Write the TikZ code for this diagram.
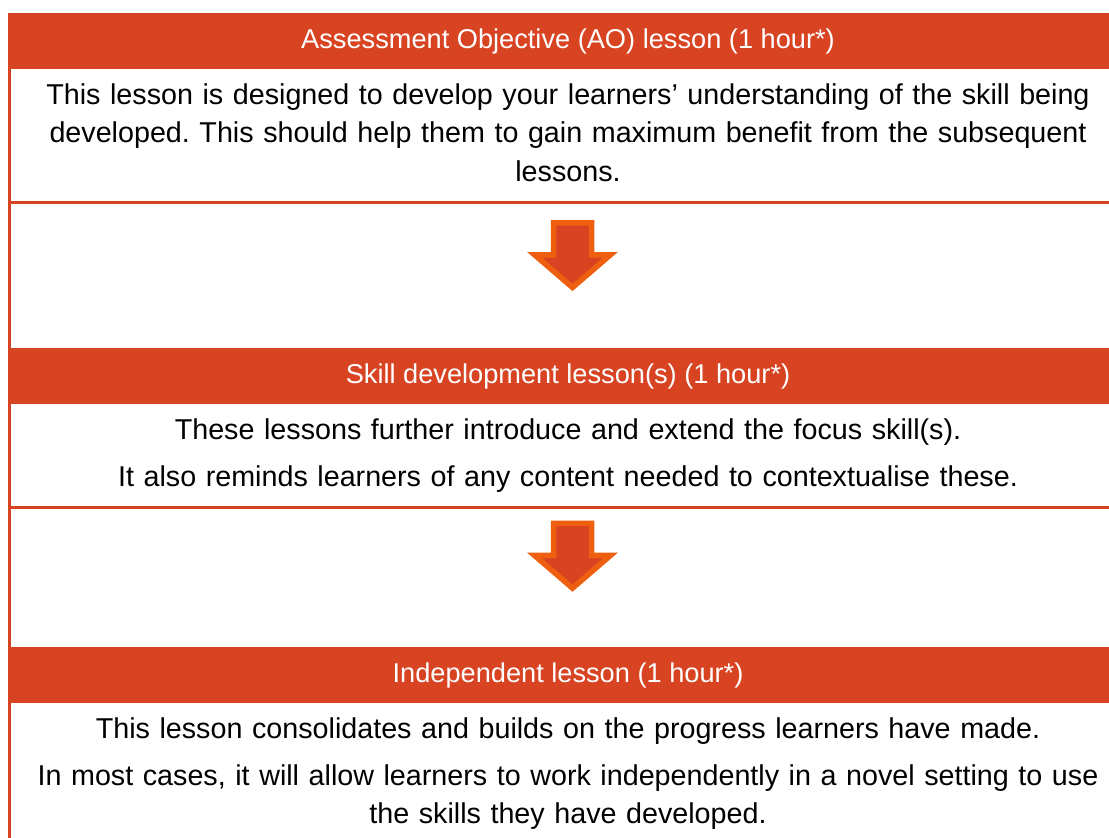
\documentclass[tikz,border=0pt]{standalone}
\usepackage{fontspec}
\setmainfont{Liberation Sans}
\usetikzlibrary{positioning}
\definecolor{lessonred}{HTML}{D84322}
\definecolor{lessonorange}{HTML}{EE5F0F}
\frenchspacing

\begin{document}
\begin{tikzpicture}[x=1pt,y=-1pt, head/.style={fill=lessonred,text=white,minimum width=1120pt,minimum height=55.7pt,inner sep=0pt,font=\fontsize{27.2}{32}\selectfont}, body/.style={anchor=base,align=center,text width=1090pt,inner sep=0pt,font=\fontsize{28.7}{38.4}\selectfont}, rule/.style={draw=lessonred,line width=2.6pt}, blockarrow/.style={fill=lessonred,draw=lessonorange,line width=5.5pt,line join=miter}]
\clip (0,0) rectangle (1109,838);
\draw[rule,line width=3pt] (9.5,13.3) -- (9.5,838);
\node[head] (ao) at (568,41.2) {Assessment Objective (AO) lesson (1 hour*)};
\node[body] (aotext) at (568,104.3) {This lesson is designed to develop your learners’ understanding of the skill being\\developed. This should help them to gain maximum benefit from the subsequent\\lessons.};
\draw[rule] (8,202.3) -- (1109,202.3);
\coordinate (arr1) at (572.5,222.75);
\draw[blockarrow] (arr1) ++(-19,0) -- ++(38,0) -- ++(0,32) -- ++(19,0) -- ++(-38,32.7) -- ++(-38,-32.7) -- ++(19,0) -- cycle;
\node[head] (skill) at (568,376) {Skill development lesson(s) (1 hour*)};
\node[body] (skilltext) at (568,439.3) {These lessons further introduce and extend the focus skill(s).\\[8.3pt]It also reminds learners of any content needed to contextualise these.};
\draw[rule] (8,507.2) -- (1109,507.2);
\coordinate (arr2) at (572.5,523.4);
\draw[blockarrow] (arr2) ++(-19,0) -- ++(38,0) -- ++(0,32) -- ++(19,0) -- ++(-38,32.7) -- ++(-38,-32.7) -- ++(19,0) -- cycle;
\node[head] (indep) at (568,675.3) {Independent lesson (1 hour*)};
\node[body] (indeptext) at (568,738.3) {This lesson consolidates and builds on the progress learners have made.\\[8.3pt]In most cases, it will allow learners to work independently in a novel setting to use\\the skills they have developed.};
\end{tikzpicture}
\end{document}
